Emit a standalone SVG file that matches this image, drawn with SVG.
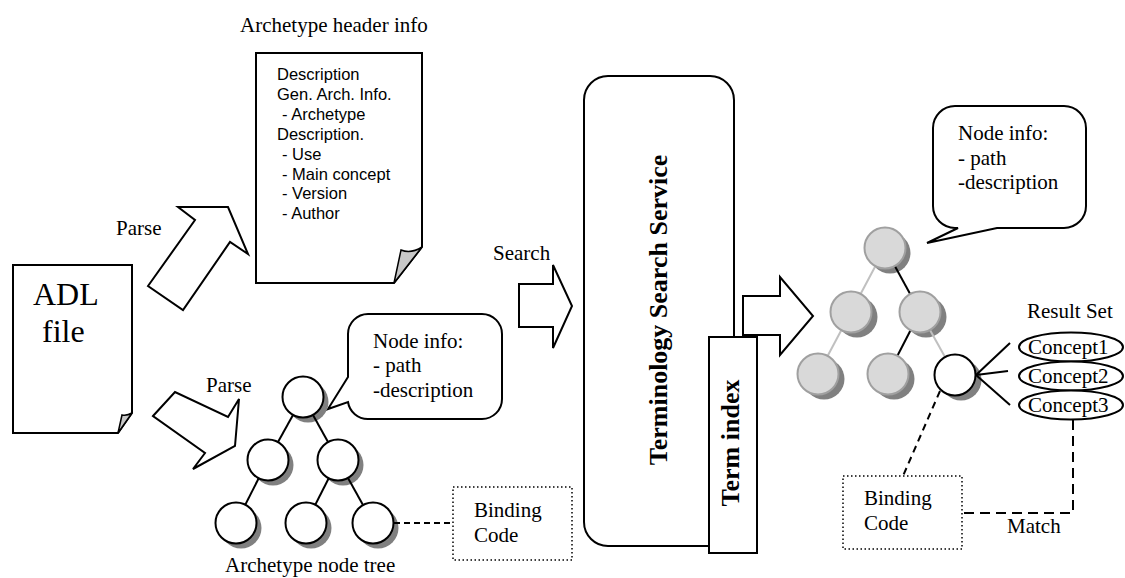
<svg xmlns="http://www.w3.org/2000/svg" width="1125" height="578" viewBox="0 0 1125 578">
<style>
.s{fill:#fff;stroke:#000;stroke-width:2}
.t{font-family:"Liberation Serif","Times New Roman",serif;font-size:21px;fill:#000}
.a{font-family:"Liberation Sans",Arial,sans-serif;font-size:16.5px;fill:#000}
.b{font-family:"Liberation Serif","Times New Roman",serif;font-size:26px;font-weight:bold;fill:#000}
.sh{fill:#808080}
.cw{fill:#fff;stroke:#000;stroke-width:2}
.cg{fill:#d9d9d9;stroke:#a0a0a0;stroke-width:2}
.curl{fill:#c8c8c8;stroke:#000;stroke-width:1.5}
.dot{fill:#fff;stroke:#000;stroke-width:1.5;stroke-dasharray:1.5,2.5}
.ln{stroke:#000;stroke-width:2;fill:none}
.lg{stroke:#c0c0c0;stroke-width:2;fill:none}
</style>
<rect width="1125" height="578" fill="#fff"/>

<g id="adl-file">
<path class="s" d="M13,265 H132 V413 L118,433 H13 Z"/>
<path class="curl" d="M122,415 Q127,416 132,413 L118,433 Z"/>
<text class="t" x="33" y="305" style="font-size:32px">ADL</text>
<text class="t" x="42" y="342" style="font-size:32px">file</text>
</g>

<g id="header-doc">
<text class="t" x="240" y="32">Archetype header info</text>
<path class="s" d="M256,53 H422 V247 L394,283 H256 Z"/>
<path class="curl" d="M401,250 Q411,254 422,247 L394,283 Z"/>
<text class="a" x="277" y="80">Description</text>
<text class="a" x="277" y="100">Gen. Arch. Info.</text>
<text class="a" x="282" y="120">- Archetype</text>
<text class="a" x="277" y="140">Description.</text>
<text class="a" x="282" y="160">- Use</text>
<text class="a" x="282" y="180">- Main concept</text>
<text class="a" x="282" y="199">- Version</text>
<text class="a" x="282" y="219">- Author</text>
</g>

<g id="parse-arrow-1">
<polygon class="s" points="148,286 195,220 178,207 228,207 248,254 230,242 183,310"/>
<text class="t" x="116" y="235">Parse</text>
</g>

<g id="parse-arrow-2">
<polygon class="s" points="153,416 175,392 228,417 239,399 235,446 193,469 205,453"/>
<text class="t" x="206" y="392">Parse</text>
</g>

<g id="node-info-left">
<path class="s" d="M368,314 H482 A20,20 0 0 1 502,334 V399 A20,20 0 0 1 482,419 H368 A20,20 0 0 1 348,402 L328,409 L348,377 V334 A20,20 0 0 1 368,314 Z"/>
<text class="t" x="373" y="348">Node info:</text>
<text class="t" x="373" y="372">- path</text>
<text class="t" x="373" y="397">-description</text>
</g>

<g id="archetype-node-tree">
<circle class="sh" cx="308" cy="402" r="20.5"/>
<circle class="sh" cx="273" cy="465" r="20.5"/>
<circle class="sh" cx="343" cy="465" r="20.5"/>
<circle class="sh" cx="241" cy="528" r="20.5"/>
<circle class="sh" cx="311" cy="528" r="20.5"/>
<circle class="sh" cx="378" cy="528" r="20.5"/>
<line class="ln" x1="303" y1="397" x2="268" y2="460"/>
<line class="ln" x1="303" y1="397" x2="338" y2="460"/>
<line class="ln" x1="268" y1="460" x2="236" y2="523"/>
<line class="ln" x1="338" y1="460" x2="306" y2="523"/>
<line class="ln" x1="338" y1="460" x2="373" y2="523"/>
<circle class="cw" cx="303" cy="397" r="20.5"/>
<circle class="cw" cx="268" cy="460" r="20.5"/>
<circle class="cw" cx="338" cy="460" r="20.5"/>
<circle class="cw" cx="236" cy="523" r="20.5"/>
<circle class="cw" cx="306" cy="523" r="20.5"/>
<circle class="cw" cx="373" cy="523" r="20.5"/>
<text class="t" x="225" y="572">Archetype node tree</text>
</g>

<g id="binding-code-left">
<rect class="dot" x="453" y="487" width="119" height="73"/>
<text class="t" x="474" y="517">Binding</text>
<text class="t" x="474" y="542">Code</text>
</g>

<g id="search-arrow">
<polygon class="s" points="519,284 553,284 553,265 572,306 553,348 553,327 519,327"/>
<text class="t" x="493" y="260">Search</text>
</g>

<g id="terminology-search-service">
<rect class="s" x="584" y="76" width="150" height="470" rx="24" ry="24"/>
<text class="b" transform="translate(667,310) rotate(-90)" text-anchor="middle">Terminology Search Service</text>
</g>

<g id="result-arrow">
<polygon class="s" points="743,296 780,296 780,277 813,316 780,355 780,335 743,335"/>
</g>

<g id="term-index">
<rect class="s" x="709" y="337" width="48" height="216"/>
<text class="b" transform="translate(739,443) rotate(-90)" text-anchor="middle">Term index</text>
</g>

<g id="node-info-right">
<path class="s" d="M955,106 H1064 A22,22 0 0 1 1086,128 V206 A22,22 0 0 1 1064,228 H997 L927,243 L958,228 H955 A22,22 0 0 1 933,206 V128 A22,22 0 0 1 955,106 Z"/>
<text class="t" x="958" y="140">Node info:</text>
<text class="t" x="958" y="165">- path</text>
<text class="t" x="958" y="189">-description</text>
</g>

<g id="result-tree">
<circle class="sh" cx="890" cy="253" r="20.5"/>
<circle class="sh" cx="857" cy="317" r="20.5"/>
<circle class="sh" cx="926" cy="317" r="20.5"/>
<circle class="sh" cx="824" cy="379" r="20.5"/>
<circle class="sh" cx="894" cy="379" r="20.5"/>
<circle class="sh" cx="961" cy="380" r="20.5"/>
<line class="lg" x1="885" y1="248" x2="851" y2="312"/>
<line class="ln" x1="885" y1="248" x2="920" y2="312"/>
<line class="lg" x1="851" y1="312" x2="818" y2="374"/>
<line class="ln" x1="920" y1="312" x2="888" y2="374"/>
<line class="lg" x1="920" y1="312" x2="955" y2="375"/>
<circle class="cg" cx="885" cy="248" r="20.5"/>
<circle class="cg" cx="851" cy="312" r="20.5"/>
<circle class="cg" cx="920" cy="312" r="20.5"/>
<circle class="cg" cx="818" cy="374" r="20.5"/>
<circle class="cg" cx="888" cy="374" r="20.5"/>
<circle class="cw" cx="955" cy="375" r="20.5"/>
</g>

<g id="result-set">
<text class="t" x="1027" y="318">Result Set</text>
<ellipse class="s" cx="1071" cy="347" rx="52" ry="14.5"/>
<text class="t" x="1028" y="354">Concept1</text>
<ellipse class="s" cx="1071" cy="376" rx="52" ry="14.5"/>
<text class="t" x="1028" y="383">Concept2</text>
<ellipse class="s" cx="1071" cy="405" rx="52" ry="14.5"/>
<text class="t" x="1028" y="412">Concept3</text>
</g>

<g id="binding-code-right">
<rect class="dot" x="843" y="476" width="119" height="73"/>
<text class="t" x="864" y="505">Binding</text>
<text class="t" x="864" y="530">Code</text>
</g>

<g id="connectors">
<line class="ln" x1="394" y1="523" x2="453" y2="523" stroke-dasharray="6,4"/>
<line class="ln" x1="1010" y1="343" x2="976" y2="375"/>
<line class="ln" x1="1008" y1="371" x2="976" y2="375"/>
<line class="ln" x1="1010" y1="405" x2="976" y2="375"/>
<line class="ln" x1="940" y1="391" x2="903" y2="476" stroke-dasharray="7,5"/>
<polyline class="ln" points="1073,420 1073,513 962,513" stroke-dasharray="10,6"/>
<text class="t" x="1007" y="533">Match</text>
</g>
</svg>
